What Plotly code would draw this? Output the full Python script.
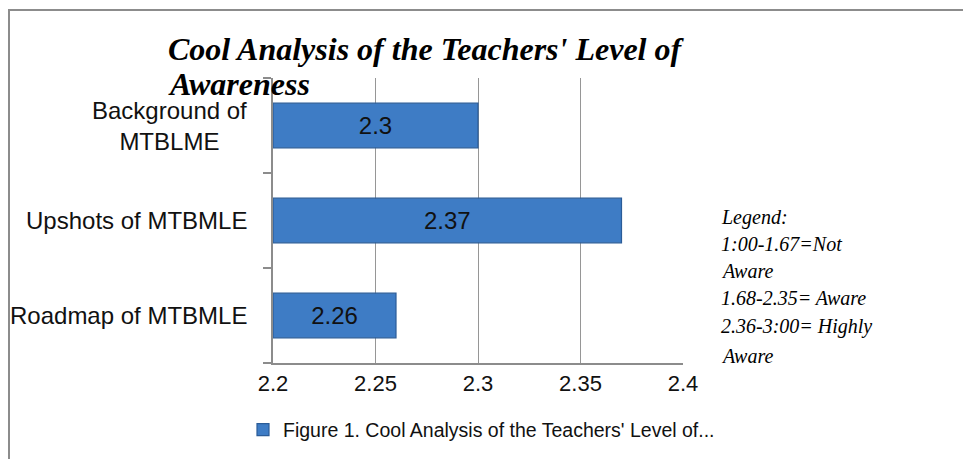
import plotly.graph_objects as go

categories = ["Roadmap of MTBMLE", "Upshots of MTBMLE", "Background of MTBLME"]
category_labels = ["Roadmap of MTBMLE", "Upshots of MTBMLE", "Background of<br>MTBLME"]
values = [2.26, 2.37, 2.3]
value_labels = ["2.26", "2.37", "2.3"]
x_range = [2.2, 2.4]
x_ticks = [2.2, 2.25, 2.3, 2.35, 2.4]
x_tick_labels = ["2.2", "2.25", "2.3", "2.35", "2.4"]
series_name = "Figure 1. Cool Analysis of the Teachers' Level of..."
title_lines = ["Cool Analysis of the Teachers' Level of", "Awareness"]
legend_lines = ["Legend:", "1:00-1.67=Not", "Aware", "1.68-2.35= Aware",
                "2.36-3:00= Highly", "Aware"]

W, H = 963, 459
L, R, T, B = 273, 280, 78, 96
pw, ph = W - L - R, H - T - B

def px(x):
    return (x - L) / pw

def py(y):
    return (H - B - y) / ph

SANS = "Liberation Sans Narrow, Arial Narrow, Liberation Sans, Arial, sans-serif"
SERIF = "Liberation Serif, Times New Roman, serif"

base = x_range[0]
fig = go.Figure()
fig.add_trace(go.Bar(
    y=categories, x=[v - base for v in values], base=base, orientation="h",
    name=series_name,
    text=value_labels, textposition="inside", insidetextanchor="middle",
    textfont=dict(family=SANS, size=24, color="#111111"),
    marker=dict(color="#3e7cc5", line=dict(color="#2b5c98", width=1.2)),
    width=0.47, showlegend=True, cliponaxis=False,
))

annotations = []
for cat, lab in zip(categories, category_labels):
    annotations.append(dict(
        x=px(249), xref="paper", y=cat, yref="y", text=lab, showarrow=False,
        xanchor="right", yanchor="middle", align="center",
        font=dict(family=SANS, size=24, color="#111111"),
    ))

title_y = [49, 84]
for ln, yy in zip(title_lines, title_y):
    annotations.append(dict(
        x=px(166), xref="paper", y=py(yy), yref="paper", text="<b><i>" + ln + "</i></b>",
        showarrow=False, xanchor="left", yanchor="middle", align="left",
        font=dict(family=SERIF, size=32, color="#000000"),
    ))

legend_y = [217, 244, 271, 298, 326, 356]
for ln, yy in zip(legend_lines, legend_y):
    annotations.append(dict(
        x=px(719), xref="paper", y=py(yy), yref="paper", text="<i>" + ln + "</i>",
        showarrow=False, xanchor="left", yanchor="middle", align="left",
        font=dict(family=SERIF, size=20, color="#000000"),
    ))

fig.update_layout(
    width=W, height=H,
    margin=dict(l=L, r=R, t=T, b=B, autoexpand=False),
    paper_bgcolor="white", plot_bgcolor="white",
    annotations=annotations,
    legend=dict(orientation="h", x=px(243), y=py(430), xanchor="left", yanchor="middle",
                font=dict(family=SANS, size=19.5, color="#111111"),
                bgcolor="rgba(0,0,0,0)", itemwidth=30),
    shapes=[dict(type="rect", xref="paper", yref="paper",
                 x0=px(9), x1=px(1000), y0=py(500), y1=py(10),
                 line=dict(color="#8c8c8c", width=2), layer="below")],
)
fig.update_xaxes(range=x_range, tickvals=x_ticks, ticktext=x_tick_labels,
                 showgrid=True, gridcolor="#969696", gridwidth=1,
                 showline=True, linecolor="#8c8c8c", linewidth=2,
                 zeroline=False, ticks="", ticklen=0,
                 tickfont=dict(family=SANS, size=22, color="#111111"))
fig.update_yaxes(categoryorder="array", categoryarray=categories,
                 showticklabels=False, showgrid=False,
                 showline=True, linecolor="#8c8c8c", linewidth=2,
                 ticks="outside", tickson="boundaries", ticklen=8, tickcolor="#8c8c8c",
                 tickwidth=2)

fig.write_html("out.html", config={"displayModeBar": False},
               post_script="document.body.style.margin='0';")
